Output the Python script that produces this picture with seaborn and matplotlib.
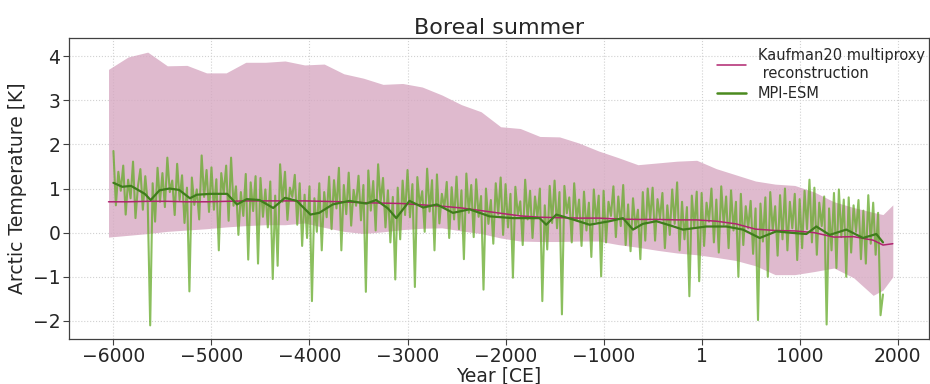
import numpy as np
import pandas as pd
import matplotlib
matplotlib.use("Agg")
import matplotlib.pyplot as plt
import seaborn as sns

# Kaufman20 multiproxy reconstruction (median and spread)
band_years = [-6050, -5850, -5650, -5450, -5250, -5050, -4850, -4650, -4450, -4250,
              -4050, -3850, -3650, -3450, -3250, -3050, -2850, -2650, -2450, -2250,
              -2050, -1850, -1650, -1450, -1250, -1050, -850, -650, -450, -250,
              -50, 150, 350, 550, 750, 950, 1150, 1350, 1550, 1750, 1850, 1950]
band_upper = [3.70, 3.98, 4.09, 3.78, 3.79, 3.62, 3.62, 3.86, 3.86, 3.89,
              3.80, 3.82, 3.60, 3.50, 3.36, 3.38, 3.30, 3.12, 2.90, 2.74,
              2.40, 2.36, 2.18, 2.17, 2.03, 1.85, 1.70, 1.54, 1.58, 1.62,
              1.64, 1.45, 1.31, 1.17, 1.10, 1.07, 0.92, 0.70, 0.57, 0.46, 0.41, 0.63]
band_lower = [-0.10, -0.06, -0.02, 0.03, 0.06, 0.09, 0.13, 0.16, 0.18, 0.18,
              0.22, 0.12, 0.03, -0.02, 0.02, 0.07, 0.10, 0.11, 0.04, -0.02,
              -0.12, -0.19, -0.20, -0.20, -0.19, -0.19, -0.27, -0.33, -0.40, -0.46,
              -0.50, -0.56, -0.63, -0.75, -0.95, -0.95, -0.88, -0.80, -1.02, -1.42, -1.30, -1.00]
band_median = [0.70, 0.70, 0.71, 0.71, 0.70, 0.70, 0.71, 0.72, 0.72, 0.72,
               0.72, 0.71, 0.70, 0.68, 0.67, 0.66, 0.63, 0.60, 0.56, 0.50,
               0.44, 0.38, 0.35, 0.34, 0.33, 0.33, 0.31, 0.30, 0.30, 0.29,
               0.29, 0.26, 0.20, 0.08, 0.05, 0.04, 0.00, -0.10, -0.09, -0.17, -0.28, -0.25]

# MPI-ESM summer Arctic temperature anomaly, one value every 25 years (-6000 ... 1850)
mpi_values = [
    1.85, 0.62, 1.38, 0.95, 1.52, 0.41, 1.20, 0.78, 1.61, 0.33, 1.05, 1.44, 0.52, 1.28, 0.66, -2.10, 1.12, 0.25, 1.47, 0.70,
    1.35, 0.58, 1.70, 0.92, 1.18, 0.40, 1.56, 0.74, 1.30, 0.22, 1.02, -1.33, 1.25, 0.63, 0.98, 0.30, 1.75, 0.81, 1.42, 0.47,
    1.48, 0.52, 1.21, -0.40, 1.35, 0.88, 1.52, 0.27, 1.70, 0.61, 1.05, -0.05, 0.92, 0.38, 1.33, -0.61, 1.14, 0.49, 1.28, -0.70,
    1.24, 0.36, 0.98, 0.12, 1.16, -1.05, 0.84, -0.75, 1.55, 0.70, 1.38, 0.29, 1.02, 0.81, 1.31, 0.18, 1.12, -0.30, 0.86, -0.12,
    1.05, -1.55, 0.78, 0.02, 1.12, -0.40, 0.92, 0.35, 1.27, 0.08, 1.19, 0.55, 1.47, -0.40, 1.08, 0.42, 1.36, 0.16, 0.97, 0.61,
    1.29, 0.28, 1.08, -1.34, 1.41, 0.50, 1.17, 0.05, 1.55, 0.68, 1.24, 0.12, 0.96, -0.22, 0.81, -1.06, 1.02, -0.15, 1.18, 0.40,
    1.42, 0.35, 1.10, -1.23, 1.26, 0.62, 0.94, 0.02, 1.45, 0.48, 1.19, -0.40, 1.32, 0.21, 0.88, 0.56, 1.15, -0.12, 1.03, 0.30,
    1.27, 0.08, 0.96, -0.60, 1.34, 0.45, 1.08, -0.10, 1.21, 0.36, 0.83, -1.29, 1.00, 0.20, 0.74, -0.25, 1.12, 0.41, 1.25, -0.05,
    1.10, 0.12, 0.88, -1.02, 1.04, 0.40, 0.71, -0.28, 1.20, 0.30, 0.95, -0.12, 0.82, 0.35, 1.00, -1.55, 0.62, -0.38, 1.06, 0.22,
    1.18, 0.10, 0.92, -1.85, 1.06, 0.44, 0.80, -0.22, 1.12, 0.28, 0.75, -0.30, 0.93, 0.05, 0.68, -0.55, 0.98, 0.25, 0.84, -0.99,
    0.95, -0.22, 0.70, 0.38, 1.05, -0.10, 0.82, 0.15, 1.08, -0.28, 0.64, -0.42, 0.78, 0.10, 0.52, -0.60, 0.92, -0.18, 1.00, 0.30,
    1.02, -0.18, 0.76, 0.32, 0.90, -0.35, 0.62, -0.05, 0.98, 0.20, 1.14, -0.40, 0.70, -0.15, 0.58, -1.44, 0.84, 0.12, 0.93, -1.10,
    0.90, -0.30, 0.68, 0.25, 1.00, -0.22, 0.75, -0.45, 1.05, 0.18, 0.82, -0.35, 0.96, 0.05, 0.70, -1.00, 0.88, -0.28, 0.60, 0.10,
    0.72, -0.48, 0.55, -1.98, 0.66, -0.20, 0.80, -1.00, 0.92, 0.05, 0.60, -0.52, 0.85, -0.15, 1.00, -0.40, 0.70, 0.10, 0.88, -0.62,
    0.76, -0.35, 0.95, 0.08, 1.20, -0.22, 1.02, -0.50, 0.68, 0.15, 0.82, -2.08, 0.55, -0.40, 0.90, -0.80, 0.98, -0.10, 0.75, -1.00,
    0.80, -0.45, 0.62, 0.02, 0.74, -0.60, 0.50, -0.70, 0.85, -0.25, 0.68, -0.50, 0.45, -1.87, -1.40,
]
mpi_years = np.arange(-6000, 1851, 25)

# smoothed MPI-ESM curve
smooth_years = [-6000, -5910, -5820, -5680, -5620, -5530, -5430, -5330, -5220, -5150,
                -5010, -4840, -4740, -4640, -4510, -4370, -4250, -4130, -3990, -3900,
                -3763, -3595, -3421, -3320, -3200, -3115, -2980, -2840, -2700, -2537,
                -2367, -2163, -1925, -1653, -1585, -1483, -1313, -1143, -939, -803,
                -700, -600, -462, -300, -190, 48, 252, 421, 592, 762,
                900, 1068, 1170, 1306, 1476, 1646, 1782, 1850]
smooth_values = [1.13, 1.04, 1.06, 0.88, 0.74, 0.96, 1.00, 0.97, 0.78, 0.86,
                 0.88, 0.88, 0.64, 0.76, 0.74, 0.56, 0.79, 0.72, 0.41, 0.45,
                 0.64, 0.72, 0.66, 0.74, 0.55, 0.33, 0.72, 0.57, 0.64, 0.45,
                 0.53, 0.37, 0.33, 0.33, 0.18, 0.41, 0.30, 0.18, 0.26, 0.33,
                 0.07, 0.20, 0.26, 0.15, 0.07, 0.14, 0.14, 0.07, -0.12, 0.03,
                 0.00, -0.03, 0.14, -0.05, 0.07, -0.12, -0.03, -0.22]

xtick_values = [-6000, -5000, -4000, -3000, -2000, -1000, 1, 1000, 2000]

kauf_df = pd.DataFrame({"year": band_years, "lo": band_lower, "hi": band_upper, "med": band_median})
mpi_df = pd.DataFrame({"year": mpi_years, "temp": mpi_values})
smooth_df = pd.DataFrame({"year": smooth_years, "temp": smooth_values})

sns.set_style("whitegrid", {"grid.linestyle": ":", "grid.color": "0.82",
                            "axes.edgecolor": "0.25"})
plt.rcParams["font.family"] = ["DejaVu Sans"]

fig = plt.figure(figsize=(9.3, 3.84), dpi=100)
ax = fig.add_axes([0.074, 0.117, 0.925, 0.784])

ax.fill_between(kauf_df["year"], kauf_df["lo"], kauf_df["hi"],
                color="#d7a9c2", alpha=0.8, linewidth=0, zorder=1)
sns.lineplot(data=mpi_df, x="year", y="temp", ax=ax, color="#64aa28",
             linewidth=1.5, alpha=0.75, zorder=2)
sns.lineplot(data=kauf_df, x="year", y="med", ax=ax, color="#b0246f",
             linewidth=1.1, zorder=3, label="Kaufman20 multiproxy\n reconstruction")
sns.lineplot(data=smooth_df, x="year", y="temp", ax=ax, color="#3f7d1c",
             linewidth=1.6, zorder=4)

# legend entry for the model
ax.plot([], [], color="#4b8a1f", linewidth=1.8, label="MPI-ESM")
ax.legend(loc="upper right", frameon=False, fontsize=10.5,
          handlelength=2.0, bbox_to_anchor=(1.01, 1.01), labelspacing=0.35)

ax.set_xlim(-6455, 2320)
ax.set_ylim(-2.41, 4.41)
ax.set_xticks(xtick_values)
ax.set_yticks([-2, -1, 0, 1, 2, 3, 4])
ax.tick_params(axis="both", labelsize=13.5, length=4, left=True, bottom=True,
               color="0.25", pad=2)
ax.set_xlabel("Year [CE]", fontsize=13.5, labelpad=0)
ax.set_ylabel("Arctic Temperature [K]", fontsize=13.5, labelpad=4)
ax.set_title("Boreal summer", fontsize=16, pad=3)
for s in ax.spines.values():
    s.set_linewidth(0.9)

fig.savefig("out.png", dpi=100)
